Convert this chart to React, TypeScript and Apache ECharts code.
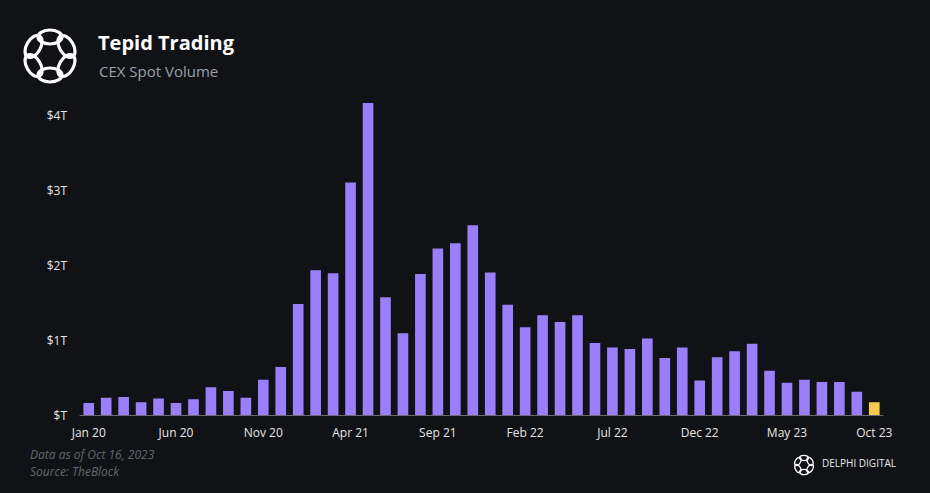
import React, { useEffect, useRef } from "react";
import * as echarts from "echarts";

const months: string[] = [
  "Jan 20", "Feb 20", "Mar 20", "Apr 20", "May 20", "Jun 20", "Jul 20", "Aug 20", "Sep 20", "Oct 20", "Nov 20", "Dec 20",
  "Jan 21", "Feb 21", "Mar 21", "Apr 21", "May 21", "Jun 21", "Jul 21", "Aug 21", "Sep 21", "Oct 21", "Nov 21", "Dec 21",
  "Jan 22", "Feb 22", "Mar 22", "Apr 22", "May 22", "Jun 22", "Jul 22", "Aug 22", "Sep 22", "Oct 22", "Nov 22", "Dec 22",
  "Jan 23", "Feb 23", "Mar 23", "Apr 23", "May 23", "Jun 23", "Jul 23", "Aug 23", "Sep 23", "Oct 23",
];

// CEX spot volume, trillions USD
const volume: number[] = [
  0.16, 0.23, 0.24, 0.17, 0.22, 0.16, 0.21, 0.37, 0.32, 0.23, 0.47, 0.64,
  1.48, 1.93, 1.89, 3.1, 4.16, 1.57, 1.09, 1.88, 2.22, 2.29, 2.53, 1.9,
  1.47, 1.17, 1.33, 1.24, 1.33, 0.96, 0.9, 0.88, 1.02, 0.76, 0.9, 0.46,
  0.77, 0.85, 0.95, 0.59, 0.43, 0.47, 0.44, 0.44, 0.31, 0.17,
];

const yTicks: number[] = [0, 1, 2, 3, 4];
const partialMonth = "Oct 23";

const PURPLE = "#9a7ffa";
const YELLOW = "#f7c94e";
const BG = "#111215";
const FONT = "'Open Sans', 'Noto Sans', sans-serif";

function logo(cx: number, cy: number, s: number, lw: number) {
  const n = 6;
  const R = 19 * s;
  const children: any[] = [];
  for (let i = 0; i < n; i++) {
    const a = (i / n) * Math.PI * 2 - Math.PI / 2;
    children.push({
      type: "ellipse",
      x: cx + R * Math.cos(a),
      y: cy + R * Math.sin(a),
      rotation: -(a + Math.PI / 2),
      shape: { cx: 0, cy: 0, rx: 12 * s, ry: 7 * s },
      style: { fill: "none", stroke: "#ffffff", lineWidth: lw },
      silent: true,
    });
  }
  return { type: "group", children };
}

export default function App() {
  const ref = useRef<HTMLDivElement>(null);
  useEffect(() => {
    if (!ref.current) return;
    const chart = echarts.init(ref.current, null, { renderer: "svg" });
    const option: any = {
      animation: false,
      backgroundColor: BG,
      textStyle: { fontFamily: FONT },
      grid: { left: 80, right: 47, top: 100, bottom: 78, containLabel: false },
      xAxis: {
        type: "category",
        data: months,
        axisTick: { show: false },
        axisLine: { lineStyle: { color: "#6a6a70", width: 1 } },
        axisLabel: { color: "#e6e6e6", fontSize: 12, margin: 11, interval: 4, fontFamily: FONT },
      },
      yAxis: {
        type: "value",
        min: 0,
        max: 4.2,
        interval: 1,
        splitLine: { show: false },
        axisLine: { show: false },
        axisTick: { show: false },
        axisLabel: {
          color: "#e6e6e6",
          fontSize: 12,
          margin: 13,
          fontFamily: FONT,
          formatter: (v: number) =>
            yTicks.includes(v) ? (v === 0 ? "$T" : `$${v}T`) : "",
        },
      },
      series: [
        {
          type: "bar",
          barCategoryGap: "39%",
          data: volume.map((v, i) => ({
            value: v,
            itemStyle: { color: months[i] === partialMonth ? YELLOW : PURPLE },
          })),
        },
      ],
      graphic: [
        logo(50, 56, 1, 3.2),
        {
          type: "text",
          left: 98,
          top: 32,
          style: { text: "Tepid Trading", fill: "#ffffff", font: `bold 20px ${FONT}` },
        },
        {
          type: "text",
          left: 99,
          top: 63,
          style: { text: "CEX Spot Volume", fill: "#9ba0aa", font: `15px ${FONT}` },
        },
        {
          type: "text",
          left: 30,
          top: 448,
          style: { text: "Data as of Oct 16, 2023", fill: "#62666f", font: `italic 12px ${FONT}` },
        },
        {
          type: "text",
          left: 30,
          top: 465,
          style: { text: "Source: TheBlock", fill: "#62666f", font: `italic 12px ${FONT}` },
        },
        logo(804, 465, 0.37, 1.3),
        {
          type: "text",
          left: 822,
          top: 458,
          style: { text: "DELPHI DIGITAL", fill: "#e8e8e8", font: `10px ${FONT}` },
        },
      ],
    };
    chart.setOption(option);
    return () => chart.dispose();
  }, []);
  return (
    <div
      ref={ref}
      style={{ position: "fixed", left: 0, top: 0, width: 930, height: 493 }}
    />
  );
}
